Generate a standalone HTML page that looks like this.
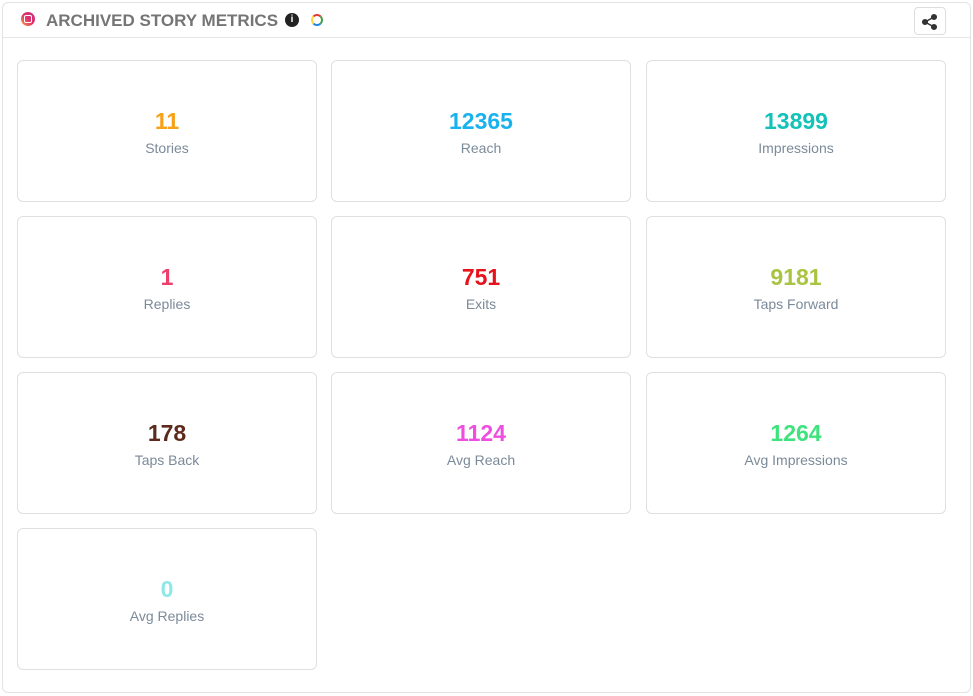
<!DOCTYPE html>
<html><head><style>
body{margin:0;background:#fff;font-family:"Liberation Sans",sans-serif;}
.panel{position:absolute;left:2px;top:2px;width:967px;height:689px;border:1px solid #e3e3e3;border-radius:6px;}
.hdr{position:absolute;left:0;top:0;width:967px;height:34px;border-bottom:1px solid #e6e6e6;}
.title{position:absolute;left:43px;top:8px;font-size:17px;font-weight:bold;color:#757575;letter-spacing:0;}
.card{position:absolute;width:298px;height:140px;border:1px solid #e0e0e0;border-radius:6px;text-align:center;}
.num{position:absolute;top:47px;width:100%;font-size:23px;font-weight:bold;}
.lbl{position:absolute;top:79px;width:100%;font-size:14px;color:#7b8a99;}
.share{position:absolute;left:911px;top:4px;width:30px;height:26px;border:1px solid #ddd;border-radius:4px;}
</style></head><body>
<div class="panel">
<div class="hdr">
<div style="position:absolute;left:18px;top:9px;width:14px;height:14px;border-radius:50%;background:linear-gradient(45deg,#f9a03f,#e1306c,#c13584)"><div style="position:absolute;left:3px;top:3px;width:6px;height:6px;border:1px solid #fff;border-radius:2px"></div></div>
<div class="title">ARCHIVED STORY METRICS</div>
<div style="position:absolute;left:282px;top:10px;width:14px;height:14px;border-radius:50%;background:#222;color:#fff;font-size:10px;font-weight:bold;text-align:center;line-height:14px">i</div>
<div style="position:absolute;left:308px;top:11px;width:8px;height:8px;border-radius:50%;border:2px solid;border-color:#e53935 #43a047 #1e88e5 #fdd835"></div>
<div class="share"><svg width="30" height="26"><g fill="#333" stroke="#333" stroke-width="1.5"><line x1="10" y1="14" x2="19" y2="9"/><line x1="10" y1="14" x2="19" y2="19"/><circle cx="10" cy="14" r="2.3"/><circle cx="19" cy="9" r="2.3"/><circle cx="19" cy="19" r="2.3"/></g></svg></div>
</div>
</div>
<div class="card" style="left:17px;top:60px"><div class="num" style="color:#f7a11a">11</div><div class="lbl">Stories</div></div>
<div class="card" style="left:331px;top:60px"><div class="num" style="color:#1ab2ee">12365</div><div class="lbl">Reach</div></div>
<div class="card" style="left:646px;top:60px"><div class="num" style="color:#13c2b8">13899</div><div class="lbl">Impressions</div></div>
<div class="card" style="left:17px;top:216px"><div class="num" style="color:#ef3e6a">1</div><div class="lbl">Replies</div></div>
<div class="card" style="left:331px;top:216px"><div class="num" style="color:#e8121b">751</div><div class="lbl">Exits</div></div>
<div class="card" style="left:646px;top:216px"><div class="num" style="color:#a8c441">9181</div><div class="lbl">Taps Forward</div></div>
<div class="card" style="left:17px;top:372px"><div class="num" style="color:#5e2a1c">178</div><div class="lbl">Taps Back</div></div>
<div class="card" style="left:331px;top:372px"><div class="num" style="color:#ee4fe0">1124</div><div class="lbl">Avg Reach</div></div>
<div class="card" style="left:646px;top:372px"><div class="num" style="color:#3ee37d">1264</div><div class="lbl">Avg Impressions</div></div>
<div class="card" style="left:17px;top:528px"><div class="num" style="color:#8ee8e8">0</div><div class="lbl">Avg Replies</div></div>
</body></html>
